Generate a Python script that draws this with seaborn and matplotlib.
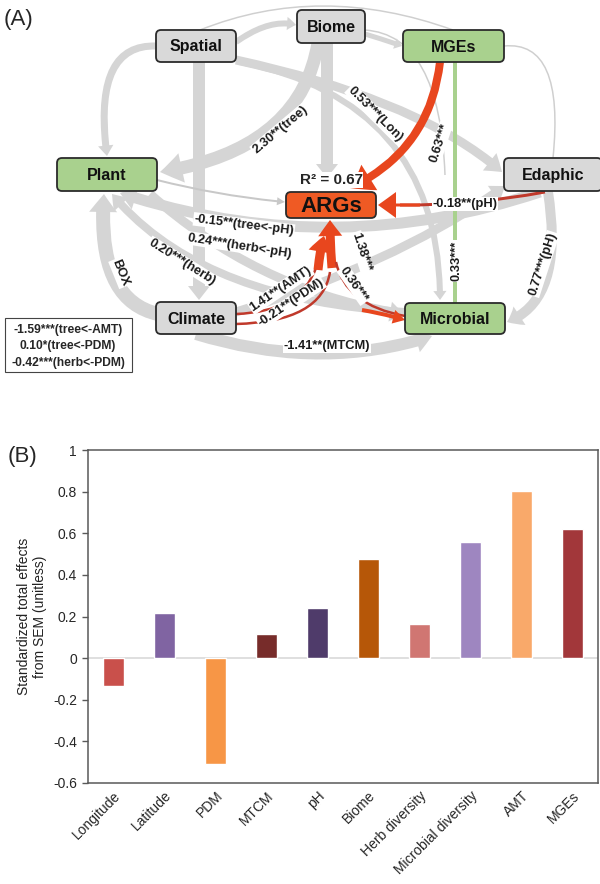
import numpy as np
import pandas as pd
import matplotlib
matplotlib.use("Agg")
import matplotlib.pyplot as plt
import seaborn as sns
from matplotlib.patches import FancyBboxPatch, FancyArrowPatch, PathPatch, Rectangle
from matplotlib.path import Path

# ---------------- data: panel B ----------------
categories = ["Longitude", "Latitude", "PDM", "MTCM", "pH", "Biome",
              "Herb diversity", "Microbial diversity", "AMT", "MGEs"]
effects = [-0.135, 0.218, -0.51, 0.115, 0.242, 0.477, 0.163, 0.56, 0.803, 0.619]
bar_colors = ["#C9504B", "#8064A2", "#F79646", "#772C2A", "#4F3B6A",
              "#B65708", "#D07672", "#9E86C0", "#F9A96A", "#A2373A"]
yticks = [-0.6, -0.4, -0.2, 0, 0.2, 0.4, 0.6, 0.8, 1]
ytick_labels = ["-0.6", "-0.4", "-0.2", "0", "0.2", "0.4", "0.6", "0.8", "1"]
y_label = "Standardized total effects\nfrom SEM (unitless)"

# ---------------- data: panel A ----------------
node_names = ["Spatial", "Biome", "MGEs", "Plant", "Edaphic", "ARGs", "Climate", "Microbial"]
node_kinds = ["gray", "gray", "green", "green", "gray", "target", "gray", "green"]
path_labels = ["2.30**(tree)", "0.53***(Lon)", "0.63***", "-0.18**(pH)",
               "-0.15**(tree<-pH)", "0.24***(herb<-pH)", "0.20***(herb)", "BOX",
               "1.41**(AMT)", "-0.21**(PDM)", "1.38***", "0.36***", "0.33***",
               "0.77***(pH)", "-1.41**(MTCM)"]
note_lines = ["-1.59***(tree<-AMT)", "0.10*(tree<-PDM)", "-0.42***(herb<-PDM)"]
r2_text = "R\u00b2 = 0.67"

# ---------------- layout (pixel space of panel A) ----------------
node_boxes = {
    "Spatial": (156, 30, 236, 62), "Biome": (297, 10, 365, 43),
    "MGEs": (403, 30, 504, 62), "Plant": (57, 158, 157, 191),
    "Edaphic": (504, 158, 602, 191), "ARGs": (286, 192, 376, 218),
    "Climate": (156, 302, 236, 334), "Microbial": (405, 303, 505, 334),
}
kind_fill = {"gray": "#D9D9D9", "green": "#A9D18E", "target": "#EF5A24"}
label_pos = [(280, 130, 40), (375, 114, -45), (440, 143, 72), (465, 204, 0),
             (244, 225, -7), (240, 246, -9), (182, 262, -32), (120, 273, -68),
             (281, 289, 34), (291, 303, 34), (361, 252, -72), (354, 285, -55),
             (457, 261, 90), (543, 264, 72), (327, 346, 0)]

sns.set_style("white")
plt.rcParams["font.family"] = ["Liberation Sans", "DejaVu Sans"]

fig = plt.figure(figsize=(6, 8.84), dpi=100)
H = 884.0
axA = fig.add_axes([0, 1 - 380 / H, 1, 380 / H])
axA.set_xlim(0, 600)
axA.set_ylim(380, 0)
axA.axis("off")

K = 72 / 100.0
GRAY = "#D5D5D5"


def curve(p0, c, p1, width, color, head_w=None, head_l=None, z=1, head=True):
    path = Path([p0, c, p1], [Path.MOVETO, Path.CURVE3, Path.CURVE3])
    if not head:
        axA.add_patch(PathPatch(path, fc="none", ec=color, lw=width * K, zorder=z,
                                capstyle="butt"))
        return
    if head_w is None:
        head_w = width * 2.2
    if head_l is None:
        head_l = width * 1.5
    style = "simple,tail_width=%.2f,head_width=%.2f,head_length=%.2f" % (
        width * K, head_w * K, head_l * K)
    axA.add_patch(FancyArrowPatch(path=path, arrowstyle=style, mutation_scale=1,
                                  fc=color, ec="none", zorder=z))


# gray paths
curve((200, 30), (320, -18), (453, 30), 1.5, "#CFCFCF", head=False)
curve((504, 46), (565, 40), (553, 158), 1.5, "#CFCFCF", head=False)
curve((365, 30), (440, 35), (445, 175), 1.5, "#CFCFCF", head=False)
curve((156, 46), (92, 44), (107, 156), 7, GRAY)
curve((199, 62), (199, 180), (199, 300), 12, GRAY, head_w=22, head_l=14)
curve((327, 43), (327, 110), (327, 178), 12, GRAY, head_w=22, head_l=14)
curve((318, 43), (300, 150), (160, 172), 13, GRAY, head_w=30, head_l=22)
curve((236, 42), (270, 18), (296, 25), 6, GRAY)
curve((365, 34), (385, 40), (402, 46), 5, GRAY)
curve((236, 60), (420, 100), (502, 172), 9, GRAY, head_w=22, head_l=16)
curve((240, 62), (440, 102), (440, 300), 6, GRAY)
curve((158, 314), (96, 300), (104, 194), 14, GRAY, head_w=28, head_l=18)
curve((196, 334), (320, 372), (432, 336), 12, GRAY, head_w=24, head_l=16)
curve((548, 192), (565, 300), (507, 322), 10, GRAY, head_w=22, head_l=14)
curve((540, 192), (330, 262), (120, 193), 11, GRAY, head_w=24, head_l=16)
curve((405, 312), (200, 300), (112, 194), 8, GRAY, head_w=20, head_l=14)
curve((236, 312), (400, 262), (505, 186), 9, GRAY, head_w=20, head_l=14)
curve((150, 194), (260, 292), (404, 314), 9, GRAY, head_w=20, head_l=14)
curve((157, 180), (220, 196), (285, 202), 2, "#C8C8C8", head_w=8, head_l=8)

# green path
curve((455, 62), (455, 180), (455, 303), 4, "#A9D18E", head=False, z=2)

# red paths
RED = "#E8461E"
DARKRED = "#C0392B"
curve((440, 62), (430, 150), (350, 188), 8, RED, head_w=30, head_l=22, z=3)
curve((545, 192), (470, 206), (400, 205), 3, DARKRED, head=False, z=3)
curve((420, 205), (400, 205), (378, 205), 3, RED, head_w=26, head_l=18, z=3)
curve((236, 314), (300, 312), (316, 268), 2.5, DARKRED, head=False, z=3)
curve((236, 324), (322, 322), (330, 272), 2.5, DARKRED, head=False, z=3)
curve((318, 270), (320, 250), (324, 236), 9, RED, head_w=24, head_l=16, z=3)
curve((332, 268), (330, 245), (330, 220), 9, RED, head_w=24, head_l=16, z=3)
curve((405, 316), (345, 305), (336, 262), 2.5, DARKRED, head=False, z=3)
curve((362, 310), (385, 314), (405, 320), 4, RED, head_w=14, head_l=12, z=3)

# path labels
for s, (x, y, r) in zip(path_labels, label_pos):
    axA.text(x, y, s, rotation=r, rotation_mode="anchor", ha="center", va="center",
             fontsize=9.3, fontweight="bold", color="#1A1A1A", zorder=5,
             bbox=dict(fc="white", ec="none", pad=0.6))

# nodes
for name, kind in zip(node_names, node_kinds):
    x0, y0, x1, y1 = node_boxes[name]
    axA.add_patch(FancyBboxPatch((x0, y0), x1 - x0, y1 - y0,
                                 boxstyle="round,pad=0,rounding_size=5",
                                 fc=kind_fill[kind], ec="#2B2B2B", lw=1.3, zorder=6))
    axA.text((x0 + x1) / 2, (y0 + y1) / 2 + 1, name, ha="center", va="center",
             fontsize=16 if kind == "target" else 11.5, fontweight="bold",
             color="#111111", zorder=7)

axA.text(331, 180, r2_text, ha="center", va="center", fontsize=11,
         fontweight="bold", zorder=7, bbox=dict(fc="white", ec="none", pad=0.5))

# note box
axA.add_patch(Rectangle((5, 318), 127, 54, fc="white", ec="#444444", lw=0.8, zorder=6))
for i, s in enumerate(note_lines):
    axA.text(68, 330 + i * 16.5, s, ha="center", va="center", fontsize=8.7,
             fontweight="bold", zorder=7)

fig.text(4 / 600, 1 - 20 / H, "(A)", fontsize=16, ha="left", va="center")
fig.text(8 / 600, 1 - 456 / H, "(B)", fontsize=16, ha="left", va="center")

# ---------------- panel B ----------------
axB = fig.add_axes([88 / 600, (884 - 783) / H, 510 / 600, 333 / H])
df = pd.DataFrame({"category": categories, "effect": effects})
sns.barplot(data=df, x="category", y="effect", hue="category", palette=bar_colors,
            width=0.4, saturation=1, legend=False, ax=axB, zorder=3)
axB.axhline(0, color="#D9D9D9", lw=1.2, zorder=2)
axB.set_ylim(-0.6, 1)
axB.set_xlim(-0.5, len(categories) - 0.5)
axB.set_yticks(yticks)
axB.set_yticklabels(ytick_labels)
axB.set_xlabel("")
axB.set_ylabel(y_label, fontsize=10, labelpad=4, color="#222222")
for sp in axB.spines.values():
    sp.set_visible(True)
    sp.set_color("#595959")
    sp.set_linewidth(1.1)
axB.tick_params(axis="y", length=4, width=1, color="#595959", direction="out",
                labelsize=10, pad=4, left=True)
axB.tick_params(axis="x", length=0, labelsize=10, pad=4)
plt.setp(axB.get_xticklabels(), rotation=45, ha="right", rotation_mode="anchor")

fig.savefig("out.png", dpi=100)
